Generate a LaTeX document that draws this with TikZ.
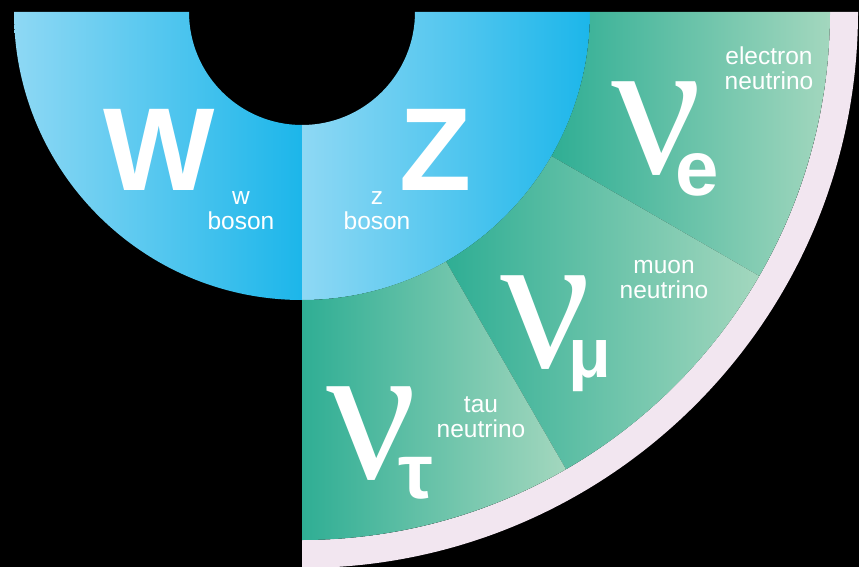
\documentclass[tikz,border=0pt]{standalone}
\usepackage{fontspec}
\setmainfont{Liberation Sans}
\newfontfamily\nufont{Liberation Serif}
\usetikzlibrary{positioning}
\definecolor{bosonlight} {RGB}{142,216,244}
\definecolor{bosondark}  {RGB}{28,182,234}
\definecolor{nudark}     {RGB}{47,174,148}
\definecolor{nulight}    {RGB}{163,215,190}
\definecolor{rimpink}    {RGB}{242,230,240}
\tikzset{
  bosonsec/.style={left color=bosonlight, right color=bosondark},
  nusec/.style={left color=nudark, right color=nulight},
  bigletter/.style={text=white, inner sep=0pt, anchor=base,
                    font=\fontsize{118}{118}\selectfont\bfseries},
  smalllabel/.style={text=white, inner sep=0pt, anchor=base, align=center,
                     font=\fontsize{24.5}{25}\selectfont},
  nusym/.style={text=white, inner sep=0pt, anchor=base,
                font=\nufont\fontsize{200}{200}\selectfont},
  nusub/.style={text=white, inner sep=0pt, anchor=base,
                font=\fontsize{78}{78}\selectfont\bfseries},
}

\begin{document}
\begin{tikzpicture}[x=1pt, y=1pt]
        % background
        \fill[black] (0,0) rectangle (859,-567);
        \useasboundingbox (0,0) rectangle (859,-567);
        \coordinate (c) at (302,-12);

        % W and Z quarters
        \path[bosonsec] ([shift={(180:288pt)}]c) arc[start angle=180, end angle=270, radius=288pt]
          -- ([shift={(270:113pt)}]c) arc[start angle=270, end angle=180, radius=113pt] -- cycle;
        \path[bosonsec] ([shift={(270:288pt)}]c) arc[start angle=270, end angle=360, radius=288pt]
          -- ([shift={(0:113pt)}]c) arc[start angle=360, end angle=270, radius=113pt] -- cycle;

        % pink rim
        \fill[rimpink] ([shift={(270:556pt)}]c) arc[start angle=270, end angle=360, radius=556pt]
          -- ([shift={(0:528pt)}]c) arc[start angle=360, end angle=270, radius=528pt] -- cycle;

        % neutrino sectors
        \path[nusec] ([shift={(330:288pt)}]c) arc[start angle=330, end angle=360, radius=288pt]
          -- ([shift={(0:528pt)}]c) arc[start angle=360, end angle=330, radius=528pt] -- cycle;
        \path[nusec] ([shift={(300:288pt)}]c) arc[start angle=300, end angle=330, radius=288pt]
          -- ([shift={(330:528pt)}]c) arc[start angle=330, end angle=300, radius=528pt] -- cycle;
        \path[nusec] ([shift={(270:288pt)}]c) arc[start angle=270, end angle=300, radius=288pt]
          -- ([shift={(300:528pt)}]c) arc[start angle=300, end angle=270, radius=528pt] -- cycle;

        % bosons
        \node[bigletter] (w) at (159,-190) {W};
        \node[smalllabel] (wlab) at (241,-229) {w\\boson};
        \node[bigletter] (z) at (436,-190) {Z};
        \node[smalllabel] (zlab) at (377,-229) {z\\boson};

        % neutrinos
        \node[nusym] (nue) at (657,-173) {ν};
        \node[nusub] (e) at (697,-195) {e};
        \node[smalllabel] (nuelab) at (769,-90) {electron\\neutrino};

        \node[nusym] (numu) at (546,-367) {ν};
        \node[nusub] (mu) at (590,-377) {\fontsize{70}{70}\selectfont μ};
        \node[smalllabel] (numulab) at (664,-298) {muon\\neutrino};

        \node[nusym] (nutau) at (372,-478) {ν};
        \node[nusub] (tau) at (416,-498) {τ};
        \node[smalllabel] (nutaulab) at (481,-437) {tau\\neutrino};
\end{tikzpicture}
\end{document}
